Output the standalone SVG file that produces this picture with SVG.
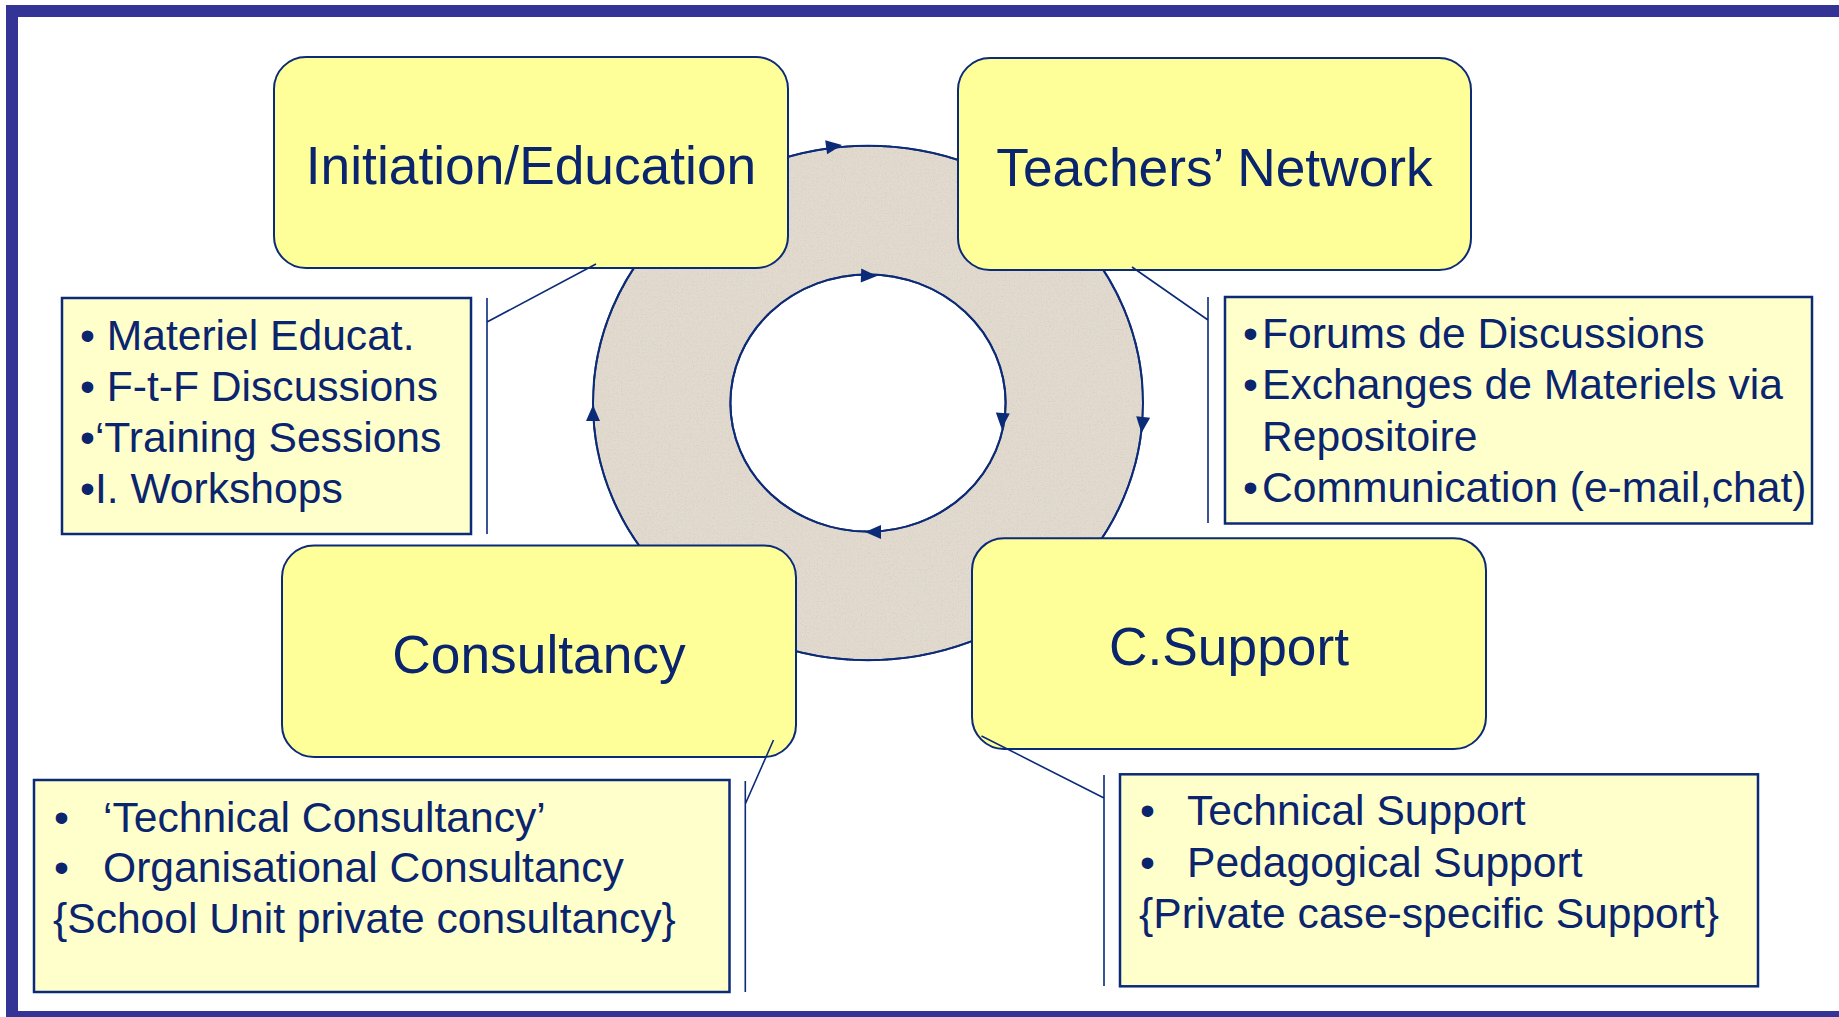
<svg xmlns="http://www.w3.org/2000/svg" xmlns:xlink="http://www.w3.org/1999/xlink" width="1839" height="1017" viewBox="0 0 1839 1017">
  <style>
    .frame { fill: #343497; }
    .ring { fill: #e2dace; fill-rule: evenodd; stroke: #0b2a78; stroke-width: 2; }
    .node { fill: #ffff99; stroke: #0b2a78; stroke-width: 2; }
    .note { fill: #ffffcc; stroke: #0b2a78; stroke-width: 2.5; }
    .title { font-family: "Liberation Sans", Arial, sans-serif; font-size: 53.3px; fill: #0a246e; text-anchor: middle; }
    .item { font-family: "Liberation Sans", Arial, sans-serif; font-size: 42.6px; fill: #0a246e; }
    .lead { fill: none; stroke: #0b2a78; stroke-width: 1.6; }
    .head { fill: #0b2a78; }
  </style>
  <defs>
    <!-- arrowhead, tip at the origin, pointing along +x -->
    <path id="ah" d="M0,0 L-16,-7 L-16,7 Z"/>
    <filter id="grain" x="0" y="0" width="100%" height="100%">
      <feTurbulence type="fractalNoise" baseFrequency="0.75" numOctaves="2" seed="7" result="noise"/>
      <feColorMatrix in="noise" type="matrix" values="0 0 0 0 0.66  0 0 0 0 0.62  0 0 0 0 0.55  0 0 0 -2.6 1.35" result="speck"/>
      <feComposite in="speck" in2="SourceGraphic" operator="in" result="clipped"/>
      <feMerge>
        <feMergeNode in="SourceGraphic"/>
        <feMergeNode in="clipped"/>
      </feMerge>
    </filter>
  </defs>

  <rect width="1839" height="1017" fill="#ffffff"/>

  <!-- outer frame: top, left and bottom bands -->
  <g id="frame">
    <rect class="frame" x="6" y="5" width="1833" height="12"/>
    <rect class="frame" x="6" y="5" width="12" height="1012"/>
    <rect class="frame" x="6" y="1011" width="1833" height="6"/>
  </g>

  <!-- cycle ring with its direction arrows -->
  <g id="cycle">
    <path class="ring" filter="url(#grain)" d="M593,403 A275,257 0 1,0 1143,403 A275,257 0 1,0 593,403 Z M730.4,403 A137.6,128.6 0 1,0 1005.6,403 A137.6,128.6 0 1,0 730.4,403 Z"/>
    <path class="ring" style="fill:none" d="M593,403 A275,257 0 1,0 1143,403 A275,257 0 1,0 593,403 Z M730.4,403 A137.6,128.6 0 1,0 1005.6,403 A137.6,128.6 0 1,0 730.4,403 Z"/>
    <use class="head" xlink:href="#ah" transform="translate(842,145) rotate(-8)"/>
    <use class="head" xlink:href="#ah" transform="translate(1141.5,433) rotate(96)"/>
    <use class="head" xlink:href="#ah" transform="translate(593,405) rotate(-90)"/>
    <use class="head" xlink:href="#ah" transform="translate(877,276) rotate(2)"/>
    <use class="head" xlink:href="#ah" transform="translate(1001.7,429) rotate(94)"/>
    <use class="head" xlink:href="#ah" transform="translate(865,532) rotate(180)"/>
  </g>

  <g id="initiation">
    <rect class="node" x="274" y="57" width="514" height="211" rx="32" ry="32"/>
    <text class="title" x="531" y="184">Initiation/Education</text>
  </g>

  <g id="teachers-network">
    <rect class="node" x="958" y="58" width="513" height="212" rx="32" ry="32"/>
    <text class="title" x="1214.5" y="186">Teachers’ Network</text>
  </g>

  <g id="consultancy">
    <rect class="node" x="282" y="545.5" width="514" height="211.5" rx="32" ry="32"/>
    <text class="title" x="539" y="673">Consultancy</text>
  </g>

  <g id="c-support">
    <rect class="node" x="972" y="538.3" width="514" height="210.7" rx="32" ry="32"/>
    <text class="title" x="1229" y="665">C.Support</text>
  </g>

  <g id="initiation-notes">
    <rect class="note" x="62" y="298" width="409" height="236"/>
    <text class="item" x="80" y="350">• Materiel Educat.</text>
    <text class="item" x="80" y="401">• F-t-F Discussions</text>
    <text class="item" x="80" y="452">•‘Training Sessions</text>
    <text class="item" x="80" y="503">•I. Workshops</text>
  </g>

  <g id="network-notes">
    <rect class="note" x="1225" y="297" width="587" height="226.5"/>
    <text class="item" y="348"><tspan x="1243">•</tspan><tspan x="1262">Forums de Discussions</tspan></text>
    <text class="item" y="399"><tspan x="1243">•</tspan><tspan x="1262">Exchanges de Materiels via</tspan></text>
    <text class="item" x="1262" y="451">Repositoire</text>
    <text class="item" y="502"><tspan x="1243">•</tspan><tspan x="1262">Communication (e-mail,chat)</tspan></text>
  </g>

  <g id="consultancy-notes">
    <rect class="note" x="34" y="780" width="695.5" height="212"/>
    <text class="item" y="832"><tspan x="54">•</tspan><tspan x="103">‘Technical Consultancy’</tspan></text>
    <text class="item" y="882"><tspan x="54">•</tspan><tspan x="103">Organisational Consultancy</tspan></text>
    <text class="item" x="53" y="933">{School Unit private consultancy}</text>
  </g>

  <g id="support-notes">
    <rect class="note" x="1120" y="774.3" width="638" height="212"/>
    <text class="item" y="825"><tspan x="1140">•</tspan><tspan x="1187">Technical Support</tspan></text>
    <text class="item" y="877"><tspan x="1140">•</tspan><tspan x="1187">Pedagogical Support</tspan></text>
    <text class="item" x="1139" y="928">{Private case-specific Support}</text>
  </g>

  <!-- callout leaders from each stage to its note -->
  <g id="connectors">
    <path class="lead" d="M596,264 L487,322 M487,298 L487,534"/>
    <path class="lead" d="M1132,267 L1208,320 M1208,297 L1208,523"/>
    <path class="lead" d="M773.5,740 L745.3,804 M745.3,781 L745.3,992"/>
    <path class="lead" d="M981.5,736 L1104,798 M1104,775 L1104,986"/>
  </g>
</svg>
